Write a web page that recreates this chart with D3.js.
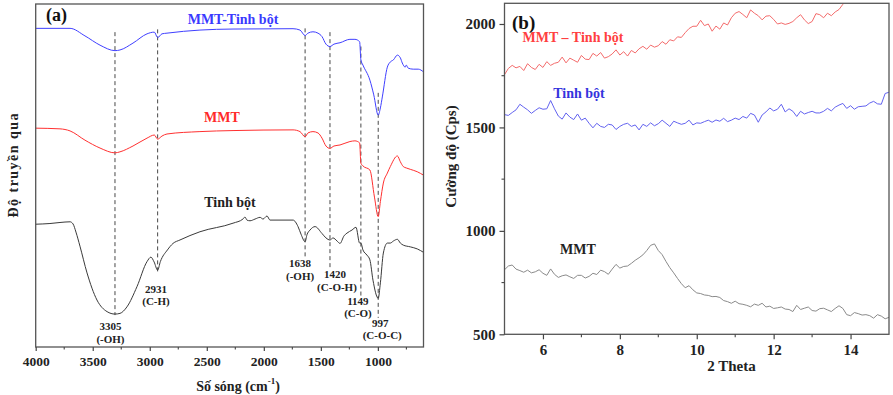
<!DOCTYPE html>
<html>
<head>
<meta charset="utf-8">
<script src="https://cdn.jsdelivr.net/npm/d3@7/dist/d3.min.js"></script>
<style>
  html, body { margin: 0; padding: 0; background: #fff; }
  svg { display: block; }
  text { font-family: "Liberation Serif", "Times New Roman", serif; font-weight: bold; }
</style>
</head>
<body>
<svg id="chart" width="893" height="395"></svg>
<script>
// ---------- (a) FTIR spectra: wavenumber (cm-1) and transmittance (a.u.) ----------
const ftirTicks = [4000, 3500, 3000, 2500, 2000, 1500, 1000];

const wnMmtStarch = [4000,3699,3568,3436,3305,3261,3147,3024,2960,2931,2893,2849,2560,2270,1744,1683,1638,1613,1569,1525,1490,1455,1420,1385,1332,1245,1201,1160,1149,1131,1070,1036,997,978,961,917,891,864,829,803,786,760,751,734,690,646,600];
const tMmtStarch  = [92.9,92.9,90.7,88.0,86.4,86.6,88.6,91.3,91.8,90.2,91.3,91.5,92.4,92.7,92.8,92.4,90.8,91.5,91.9,91.5,90.5,88.3,87.6,88.3,88.7,89.7,89.7,89.0,83.7,82.2,77.8,73.5,67.6,69.7,72.9,81.6,83.1,83.7,85.1,84.3,82.8,81.6,82.2,81.3,81.0,81.0,80.2];

const wnMmt = [4000,3787,3699,3568,3436,3305,3261,3147,3024,2960,2931,2893,2849,2560,2270,1744,1683,1638,1613,1569,1525,1490,1455,1420,1385,1332,1245,1201,1160,1149,1131,1070,1030,997,978,952,917,891,829,803,777,751,716,655,600];
const tMmt  = [63.8,63.6,63.0,60.3,58.0,56.6,56.9,58.6,60.9,61.8,60.6,61.5,62.1,62.8,63.1,63.3,62.8,61.3,62.4,62.8,62.4,60.9,58.6,57.9,58.6,58.9,59.9,60.1,59.5,53.6,52.8,51.6,43.7,38.0,42.4,47.8,50.7,52.6,55.7,54.0,52.6,52.2,51.8,51.1,50.1];

const wnStarch = [4000,3875,3787,3699,3673,3647,3612,3550,3463,3374,3305,3261,3200,3112,3024,2990,2962,2931,2907,2845,2796,2735,2560,2270,2183,2165,2148,2121,2077,2033,2007,1972,1946,1858,1744,1700,1674,1638,1622,1595,1551,1490,1455,1420,1393,1358,1332,1297,1271,1227,1192,1160,1149,1131,1096,1070,1043,997,978,952,917,891,864,829,803,777,716,655,600];
const tStarch  = [35.8,36.0,36.3,36.5,35.9,33.5,29.4,21.6,13.7,10.3,9.6,9.8,11.7,17.6,24.9,26.2,24.8,22.4,24.9,28.3,30.2,31.2,33.6,36.1,37.3,37.9,37.0,36.8,37.3,37.8,37.3,38.2,37.0,37.0,37.0,35.1,32.9,30.7,32.7,34.1,35.1,33.1,31.8,31.2,31.8,30.9,30.2,32.4,33.2,34.1,34.9,30.3,30.3,28.3,26.8,25.4,19.5,14.2,18.7,27.4,30.3,30.3,30.9,31.4,30.3,29.7,29.2,28.6,27.6];

// Band assignments: wavenumber, group, dashed guide from/to (transmittance a.u.)
const bandWn    = [3305, 2931, 1638, 1420, 1149, 997];
const bandGroup = ["(-OH)", "(C-H)", "(-OH)", "(C-O-H)", "(C-O)", "(C-O-C)"];
const bandFrom  = [91.8, 92.6, 92.9, 91.8, 87.6, 74.1];
const bandTo    = [9.3, 21.9, 25.9, 22.4, 14.6, 8.5];

// ---------- (b) XRD patterns: 2θ from 5 to 15 step 0.1, intensity (Cps) ----------
const xrdTicks = [6, 8, 10, 12, 14];
const xrdYTicks = [500, 1000, 1500, 2000];

const xrdMmtStarch = [1755,1785,1800,1788,1795,1775,1808,1790,1780,1805,1790,1818,1800,1810,1815,1840,1812,1835,1825,1815,1848,1830,1828,1858,1845,1862,1835,1842,1855,1875,1850,1866,1845,1872,1860,1880,1892,1878,1898,1888,1895,1915,1902,1924,1918,1938,1935,1958,1978,1989,1989,2018,1992,2000,1965,1990,1975,2005,1995,2030,2052,2060,2046,2030,2068,2052,2040,2020,2038,2040,2022,2000,2005,1998,2003,2012,2030,2045,2020,2002,2012,2050,2045,2030,2052,2040,2058,2070,2095,2115,2125];
const xrdStarch = [1562,1558,1572,1585,1612,1598,1585,1568,1582,1595,1588,1590,1630,1590,1555,1540,1570,1550,1538,1565,1535,1545,1520,1498,1520,1505,1500,1515,1512,1490,1505,1515,1520,1505,1512,1488,1515,1505,1522,1508,1518,1535,1520,1505,1530,1522,1515,1520,1535,1512,1522,1520,1528,1535,1525,1536,1530,1544,1528,1535,1545,1538,1553,1545,1568,1560,1525,1560,1575,1594,1580,1588,1612,1575,1590,1578,1553,1578,1565,1572,1578,1570,1570,1578,1592,1580,1598,1608,1616,1592,1605,1588,1600,1602,1604,1618,1626,1614,1612,1664,1670];
const xrdMmt = [812,830,835,815,808,800,810,797,802,812,795,785,816,790,775,783,787,778,770,785,785,772,780,795,789,810,803,790,815,838,820,828,830,843,858,870,884,905,930,937,905,885,852,822,797,770,745,725,735,715,700,697,690,688,682,683,678,663,658,650,660,648,645,640,633,646,640,650,632,636,625,628,632,622,620,610,640,620,626,632,615,612,624,626,618,610,625,638,625,595,590,605,600,593,595,590,578,595,588,575,582];

const svg = d3.select("#chart");
svg.append("rect").attr("width", 893).attr("height", 395).attr("fill", "#fff");

// ====================== Panel (a) ======================
const xA = d3.scaleLinear().domain([4000, 600]).range([35.7, 423.5]);
const yA = d3.scaleLinear().domain([0, 100]).range([347, 4]);
const gA = svg.append("g");

const lineA = d3.line().x(d => xA(d[0])).y(d => yA(d[1])).curve(d3.curveMonotoneX);
const ftirSeries = [
  { wn: wnMmtStarch, t: tMmtStarch, color: "#3f3fff" },
  { wn: wnMmt, t: tMmt, color: "#ff3030" },
  { wn: wnStarch, t: tStarch, color: "#3a3a3a" }
];

// dashed band guides
const bandLayout = [
  { dx: -4.5, dy: 11 }, { dx: -1.6, dy: 17 }, { dx: -5, dy: 5 },
  { dx: 5, dy: 4, dx2: 7 }, { dx: -3, dy: 4 }, { dx: 2, dy: 5, dx2: 4 }
];
bandWn.forEach((wn, i) => {
  gA.append("line")
    .attr("x1", xA(wn)).attr("x2", xA(wn))
    .attr("y1", yA(bandFrom[i])).attr("y2", yA(bandTo[i]))
    .attr("stroke", "#333").attr("stroke-width", 0.9)
    .attr("stroke-dasharray", "4,3");
});

ftirSeries.forEach(s => {
  gA.append("path")
    .datum(s.wn.map((w, i) => [w, s.t[i]]))
    .attr("fill", "none").attr("stroke", s.color).attr("stroke-width", 1)
    .attr("d", lineA);
});

bandWn.forEach((wn, i) => {
  const L = bandLayout[i];
  const cx = xA(wn) + L.dx, cy = yA(bandTo[i]) + L.dy;
  const cx2 = xA(wn) + (L.dx2 !== undefined ? L.dx2 : L.dx);
  gA.append("text").attr("x", cx).attr("y", cy)
    .attr("text-anchor", "middle").attr("dominant-baseline", "central")
    .attr("font-size", 11).attr("fill", "#222").text(wn);
  gA.append("text").attr("x", cx2).attr("y", cy + 12.5)
    .attr("text-anchor", "middle").attr("dominant-baseline", "central")
    .attr("font-size", 11).attr("fill", "#222").text(bandGroup[i]);
});

// frame
gA.append("rect").attr("x", 35.7).attr("y", 4).attr("width", 423.5 - 35.7).attr("height", 343)
  .attr("fill", "none").attr("stroke", "#555").attr("stroke-width", 1.3);

// x axis
const axA = gA.append("g").attr("transform", "translate(0,347)")
  .call(d3.axisBottom(xA).tickValues(ftirTicks).tickSize(4).tickPadding(5).tickFormat(d3.format("d")));
axA.select(".domain").remove();
axA.selectAll("line").attr("stroke", "#444").attr("stroke-width", 1.2);
axA.selectAll("text").attr("font-size", 13.5).attr("fill", "#222")
  .attr("font-family", "Liberation Serif, serif").attr("font-weight", "bold");
const minorA = d3.range(3750, 600, -500);
gA.append("g").selectAll("line").data(minorA).join("line")
  .attr("x1", d => xA(d)).attr("x2", d => xA(d)).attr("y1", 347).attr("y2", 349.5)
  .attr("stroke", "#444").attr("stroke-width", 1.1);

gA.append("text").attr("x", 238).attr("y", 386).attr("text-anchor", "middle")
  .attr("dominant-baseline", "central").attr("font-size", 14).attr("fill", "#222")
  .text("Số sóng (cm")
  .append("tspan").attr("font-size", 9).attr("dy", -5).text("-1")
  .select(function() { return this.parentNode; })
  .append("tspan").attr("dy", 5).text(")");

gA.append("text").attr("transform", "translate(13,165.5) rotate(-90)")
  .attr("text-anchor", "middle").attr("dominant-baseline", "central")
  .attr("font-size", 14).attr("fill", "#222")
  .attr("textLength", 104).attr("lengthAdjust", "spacing").text("Độ truyền qua");

gA.append("text").attr("x", 46).attr("y", 15).attr("dominant-baseline", "central")
  .attr("font-size", 18).attr("fill", "#111").text("(a)");
gA.append("text").attr("x", 233).attr("y", 19).attr("text-anchor", "middle")
  .attr("dominant-baseline", "central").attr("font-size", 14).attr("fill", "#3a3aff").text("MMT-Tinh bột");
gA.append("text").attr("x", 222).attr("y", 117).attr("text-anchor", "middle")
  .attr("dominant-baseline", "central").attr("font-size", 14).attr("fill", "#ff2a2a").text("MMT");
gA.append("text").attr("x", 230).attr("y", 202).attr("text-anchor", "middle")
  .attr("dominant-baseline", "central").attr("font-size", 14).attr("fill", "#222").text("Tinh bột");

// ====================== Panel (b) ======================
const xB = d3.scaleLinear().domain([5, 15]).range([504.5, 889]);
const yB = d3.scaleLinear().domain([500, 2100]).range([334.3, 3.3]);
const gB = svg.append("g");

gB.append("clipPath").attr("id", "clipB").append("rect")
  .attr("x", 504.5).attr("y", 3.3).attr("width", 889 - 504.5).attr("height", 334.3 - 3.3);

const thetaAt = i => 5 + i * 0.1;
const lineB = d3.line().x((d, i) => xB(thetaAt(i))).y(d => yB(d));
const xrdSeries = [
  { v: xrdMmtStarch, color: "#f36b6b" },
  { v: xrdStarch, color: "#6262ef" },
  { v: xrdMmt, color: "#8a8a8a" }
];
xrdSeries.forEach(s => {
  gB.append("path").datum(s.v).attr("clip-path", "url(#clipB)")
    .attr("fill", "none").attr("stroke", s.color).attr("stroke-width", 1)
    .attr("d", lineB);
});

gB.append("rect").attr("x", 504.5).attr("y", 3.3).attr("width", 889 - 504.5).attr("height", 331)
  .attr("fill", "none").attr("stroke", "#555").attr("stroke-width", 1.3);

const axBx = gB.append("g").attr("transform", "translate(0,334.3)")
  .call(d3.axisBottom(xB).tickValues(xrdTicks).tickSize(5).tickPadding(5).tickFormat(d3.format("d")));
axBx.select(".domain").remove();
const axBy = gB.append("g").attr("transform", "translate(504.5,0)")
  .call(d3.axisLeft(yB).tickValues(xrdYTicks).tickSize(5).tickPadding(4).tickFormat(d3.format("d")));
axBy.select(".domain").remove();
[axBx, axBy].forEach(ax => {
  ax.selectAll("line").attr("stroke", "#444").attr("stroke-width", 1.2);
  ax.selectAll("text").attr("font-size", 15).attr("fill", "#222")
    .attr("font-family", "Liberation Serif, serif").attr("font-weight", "bold");
});
gB.append("g").selectAll("line").data([7, 9, 11, 13]).join("line")
  .attr("x1", d => xB(d)).attr("x2", d => xB(d)).attr("y1", 334.3).attr("y2", 337.3)
  .attr("stroke", "#444").attr("stroke-width", 1.1);
gB.append("g").selectAll("line").data([750, 1250, 1750]).join("line")
  .attr("x1", 501.5).attr("x2", 504.5).attr("y1", d => yB(d)).attr("y2", d => yB(d))
  .attr("stroke", "#444").attr("stroke-width", 1.1);

gB.append("text").attr("x", 731.5).attr("y", 366).attr("text-anchor", "middle")
  .attr("dominant-baseline", "central").attr("font-size", 15).attr("fill", "#222").text("2 Theta");
gB.append("text").attr("transform", "translate(451,156.5) rotate(-90)")
  .attr("text-anchor", "middle").attr("dominant-baseline", "central")
  .attr("font-size", 15).attr("fill", "#222").text("Cường độ (Cps)");

gB.append("text").attr("x", 512).attr("y", 22).attr("dominant-baseline", "central")
  .attr("font-size", 19).attr("fill", "#111").text("(b)");
gB.append("text").attr("x", 573).attr("y", 37).attr("text-anchor", "middle")
  .attr("dominant-baseline", "central").attr("font-size", 14).attr("fill", "#ff4040").text("MMT – Tinh bột");
gB.append("text").attr("x", 579).attr("y", 93).attr("text-anchor", "middle")
  .attr("dominant-baseline", "central").attr("font-size", 14).attr("fill", "#3434dd").text("Tinh bột");
gB.append("text").attr("x", 578).attr("y", 249).attr("text-anchor", "middle")
  .attr("dominant-baseline", "central").attr("font-size", 14).attr("fill", "#222").text("MMT");
</script>
</body>
</html>
